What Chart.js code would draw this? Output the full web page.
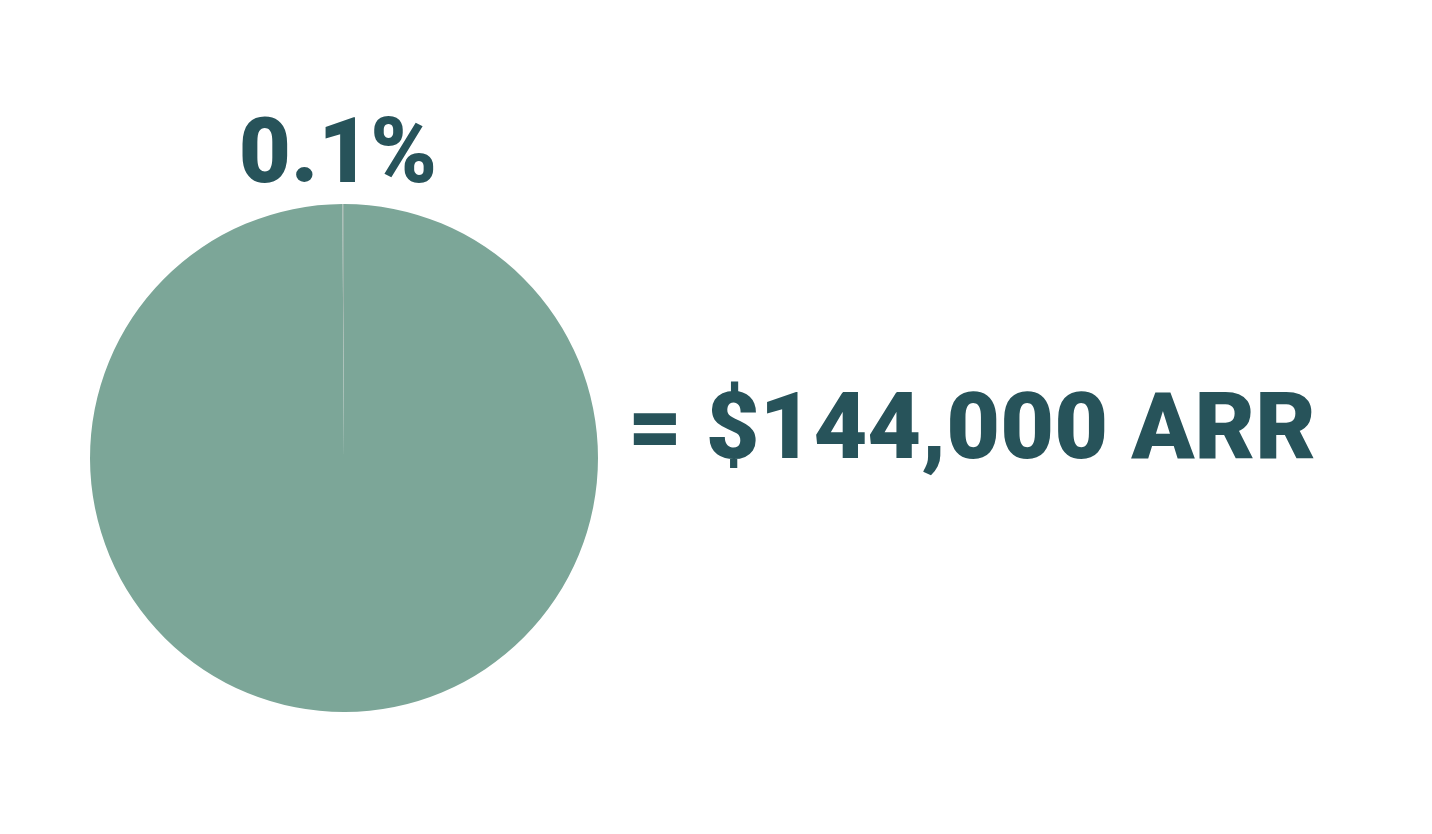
<!DOCTYPE html>
<html>
<head>
<meta charset="utf-8">
<script src="https://cdn.jsdelivr.net/npm/chart.js@4"></script>
<style>
    body { margin: 0; background: #ffffff; }
    #wrap { position: relative; width: 1432px; height: 834px; }
</style>
</head>
<body>
<div id="wrap"><canvas id="pieChart" width="1432" height="834"></canvas></div>
<script>
// chart data
const sliceLabels = ['Rest of market', 'Captured share'];
const sliceValues = [99.9, 0.1];
const sliceColors = ['#7ca698', '#9ab2a9'];
const shareLabel = '0.1%';
const revenueLabel = '= $144,000 ARR';

const textColor = '#27535a';

// draws the share label above the pie and the revenue text to its right
const labelPlugin = {
    id: 'labels',
    afterDatasetsDraw(chart) {
        const ctx = chart.ctx;
        const arc = chart.getDatasetMeta(0).data[1];
        const cx = arc.x;
        const cy = arc.y;
        const r = arc.outerRadius;

        ctx.save();
        ctx.fillStyle = textColor;
        ctx.font = '900 90px Roboto';
        ctx.textAlign = 'center';
        ctx.textBaseline = 'alphabetic';
        ctx.fillText(shareLabel, cx - 6, cy - r - 22);

        ctx.font = '900 93px Roboto';
        ctx.textAlign = 'left';
        ctx.fillText(revenueLabel, cx + r + 30, cy + 0);
        ctx.restore();
    }
};

const ctx = document.getElementById('pieChart').getContext('2d');
const pieChart = new Chart(ctx, {
    type: 'pie',
    data: {
        labels: sliceLabels,
        datasets: [{
            data: sliceValues,
            backgroundColor: sliceColors,
            borderWidth: 0
        }]
    },
    options: {
        responsive: false,
        animation: false,
        layout: {
            padding: { left: 90, top: 204, right: 834, bottom: 122 }
        },
        plugins: {
            legend: { display: false },
            tooltip: { enabled: false }
        }
    },
    plugins: [labelPlugin]
});
</script>
</body>
</html>
